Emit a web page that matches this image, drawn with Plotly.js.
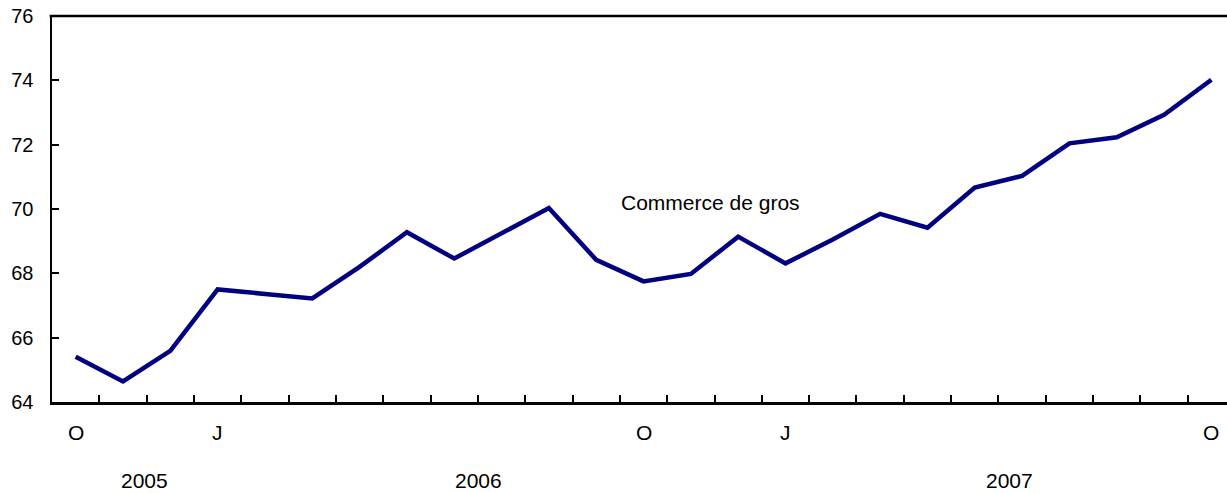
<!DOCTYPE html>
<html>
<head>
<meta charset="utf-8">
<script src="https://cdn.plot.ly/plotly-3.0.1.min.js"></script>
<style>
html,body{margin:0;padding:0;background:#fff;}
#chart{width:1227px;height:493px;}
</style>
</head>
<body>
<div id="chart"></div>
<script>
// Monthly data, October 2005 to October 2007
var monthIndex = [0,1,2,3,4,5,6,7,8,9,10,11,12,13,14,15,16,17,18,19,20,21,22,23,24];
var values = [65.41,64.64,65.59,67.50,67.36,67.22,68.20,69.28,68.46,69.25,70.03,68.42,67.75,67.98,69.14,68.31,69.05,69.85,69.42,70.67,71.03,72.04,72.23,72.93,74.02];
var seriesName = "Commerce de gros";
var monthLabelPos = [0,3,12,15,24];
var monthLabels = ["O","J","O","J","O"];
var yearLabelPos = [1.46,8.51,19.73];
var yearLabels = ["2005","2006","2007"];
var tickBoundaries = [];
for (var i = 0; i < monthIndex.length - 1; i++) tickBoundaries.push(monthIndex[i] + 0.5);
var yTicks = [64,66,68,70,72,74,76];

var FONT = "Liberation Sans, Arial, Helvetica, sans-serif";
var annotations = [];
for (var j = 0; j < monthLabels.length; j++) {
  annotations.push({x: monthLabelPos[j], y: -0.08, xref: 'x', yref: 'paper', text: monthLabels[j],
    showarrow: false, xanchor: 'center', yanchor: 'middle', font: {family: FONT, size: 21, color: '#000'}});
}
for (var k = 0; k < yearLabels.length; k++) {
  annotations.push({x: yearLabelPos[k], y: -0.2036, xref: 'x', yref: 'paper', text: yearLabels[k],
    showarrow: false, xanchor: 'center', yanchor: 'middle', font: {family: FONT, size: 21, color: '#000'}});
}
annotations.push({x: 13.42, y: 70.19, xref: 'x', yref: 'y', text: seriesName, showarrow: false,
  xanchor: 'center', yanchor: 'middle', font: {family: FONT, size: 21, color: '#000'}});

var trace = {x: monthIndex, y: values, type: 'scatter', mode: 'lines', name: seriesName,
  line: {color: '#000080', width: 4.5}, hoverinfo: 'skip'};

var layout = {
  width: 1227, height: 493,
  margin: {l: 52, r: 0, t: 16, b: 91},
  paper_bgcolor: '#fff', plot_bgcolor: '#fff',
  showlegend: false,
  font: {family: FONT, size: 20, color: '#000'},
  xaxis: {range: [-0.5, 24.33], showgrid: false, zeroline: false,
    showline: true, linecolor: '#000', linewidth: 2.5, mirror: false,
    tickmode: 'array', tickvals: tickBoundaries, ticks: 'inside', ticklen: 7, tickwidth: 2, tickcolor: '#000',
    showticklabels: false, fixedrange: true},
  yaxis: {range: [64, 76], showgrid: false, zeroline: false,
    showline: true, linecolor: '#000', linewidth: 2.5,
    tickmode: 'array', tickvals: yTicks, ticks: 'inside', ticklen: 7, tickwidth: 2, tickcolor: '#000',
    ticklabelstandoff: 12, tickfont: {family: FONT, size: 20, color: '#000'}, fixedrange: true},
  shapes: [{type: 'line', xref: 'paper', yref: 'paper', x0: -0.002, x1: 1, y0: 1, y1: 1,
    line: {color: '#000', width: 2.5}}],
  annotations: annotations
};
Plotly.newPlot('chart', [trace], layout, {displayModeBar: false, staticPlot: true});
</script>
</body>
</html>
